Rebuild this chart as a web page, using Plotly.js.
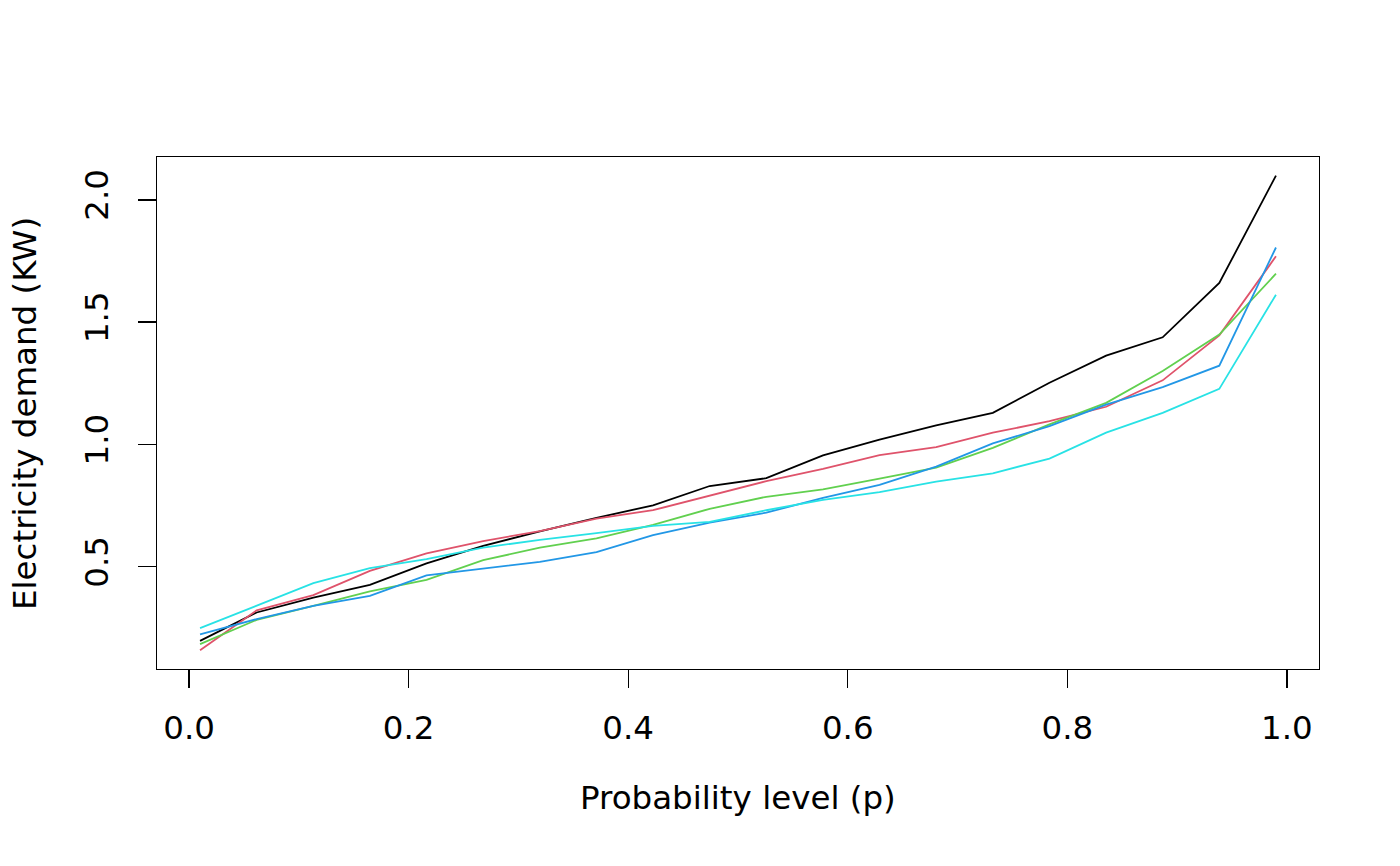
<!DOCTYPE html>
<html>
<head>
<meta charset="utf-8">
<script src="https://cdn.plot.ly/plotly-3.0.1.min.js"></script>
<style>
  html, body { margin: 0; padding: 0; background: #fff; }
  #myDiv { width: 1400px; height: 866px; }
</style>
</head>
<body>
<div id="myDiv"></div>
<script>
// probability levels (20 points from 0.01 to 0.99)
var p = [0.01, 0.0616, 0.1132, 0.1647, 0.2163, 0.2679, 0.3195, 0.3711, 0.4226, 0.4742,
         0.5258, 0.5774, 0.6289, 0.6805, 0.7321, 0.7837, 0.8353, 0.8868, 0.9384, 0.99];

// quantile curves
var q1 = [0.197, 0.313, 0.374, 0.426, 0.514, 0.585, 0.645, 0.700, 0.751, 0.830,
          0.862, 0.955, 1.020, 1.078, 1.129, 1.252, 1.363, 1.438, 1.660, 2.099];
var q2 = [0.159, 0.322, 0.384, 0.483, 0.555, 0.605, 0.646, 0.697, 0.731, 0.789,
          0.850, 0.900, 0.956, 0.989, 1.048, 1.095, 1.154, 1.262, 1.446, 1.769];
var q3 = [0.184, 0.283, 0.340, 0.399, 0.446, 0.527, 0.578, 0.616, 0.671, 0.737,
          0.786, 0.816, 0.860, 0.905, 0.986, 1.082, 1.170, 1.300, 1.449, 1.698];
var q4 = [0.224, 0.286, 0.340, 0.381, 0.465, 0.493, 0.520, 0.560, 0.629, 0.680,
          0.721, 0.782, 0.835, 0.909, 1.004, 1.075, 1.163, 1.234, 1.322, 1.805];
var q5 = [0.249, 0.342, 0.433, 0.494, 0.531, 0.578, 0.610, 0.637, 0.667, 0.683,
          0.731, 0.773, 0.805, 0.848, 0.882, 0.942, 1.048, 1.129, 1.227, 1.612];

var curves = [q1, q2, q3, q4, q5];
var cols = ['#000000', '#DF536B', '#61D04F', '#2297E6', '#28E2E5'];

var xTicks = [0, 0.2, 0.4, 0.6, 0.8, 1.0];
var xLabels = ['0.0', '0.2', '0.4', '0.6', '0.8', '1.0'];
var yTicks = [0.5, 1.0, 1.5, 2.0];
var yLabels = ['0.5', '1.0', '1.5', '2.0'];

var traces = curves.map(function(q, i) {
    return {
        x: p, y: q, type: 'scatter', mode: 'lines',
        line: {color: cols[i], width: 1.8},
        showlegend: false, hoverinfo: 'skip'
    };
});

var fnt = {family: 'DejaVu Sans', size: 32.5, color: '#000'};

var layout = {
    width: 1400, height: 866,
    paper_bgcolor: '#fff', plot_bgcolor: '#fff',
    margin: {l: 157, r: 81, t: 157, b: 197},
    font: fnt,
    xaxis: {
        range: [-0.0292, 1.0292], showgrid: false, zeroline: false,
        showline: true, mirror: true, linecolor: '#000', linewidth: 1.4,
        ticks: 'outside', ticklen: 18, tickwidth: 1.4, tickcolor: '#000',
        tickvals: xTicks, ticktext: xLabels, tickfont: fnt,
        ticklabelstandoff: 12
    },
    yaxis: {
        range: [0.082, 2.175], showgrid: false, zeroline: false,
        showline: true, mirror: true, linecolor: '#000', linewidth: 1.4,
        ticks: 'outside', ticklen: 18, tickwidth: 1.4, tickcolor: '#000',
        tickvals: yTicks, ticktext: yLabels, tickfont: fnt, tickangle: -90,
        ticklabelstandoff: 17
    },
    annotations: [
        {text: 'Probability level (p)', xref: 'paper', yref: 'paper',
         x: 0.5, y: -0.252, xanchor: 'center', yanchor: 'middle',
         showarrow: false, font: fnt},
        {text: 'Electricity demand (KW)', xref: 'paper', yref: 'paper',
         x: -0.1136, y: 0.5, xanchor: 'center', yanchor: 'middle', textangle: -90,
         showarrow: false, font: fnt}
    ]
};

Plotly.newPlot('myDiv', traces, layout, {staticPlot: true, displayModeBar: false});
</script>
</body>
</html>
